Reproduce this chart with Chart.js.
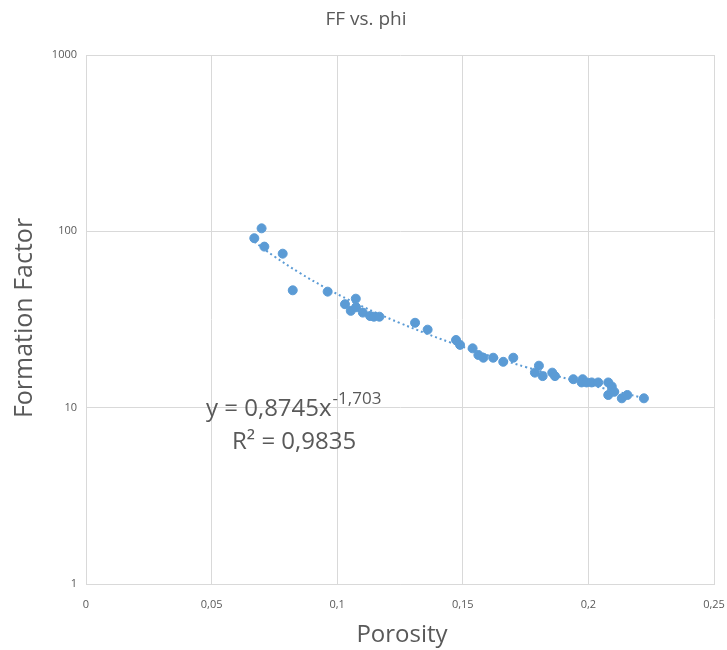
<!DOCTYPE html>
<html>
<head>
<meta charset="utf-8">
<script src="https://cdn.jsdelivr.net/npm/chart.js@4.4.1/dist/chart.umd.min.js"></script>
<style>
  html, body { margin: 0; padding: 0; background: #fff; }
  #wrap { width: 727px; height: 650px; }
</style>
</head>
<body>
<div id="wrap"><canvas id="grafico"></canvas></div>
<script>
// porosity (phi) and formation factor (FF)
var porosity = [
  0.0670, 0.0699, 0.0710, 0.0783, 0.0823, 0.0962, 0.1031, 0.1074, 0.1054, 0.1075,
  0.1102, 0.1131, 0.1146, 0.1168, 0.1310, 0.1360, 0.1473, 0.1489, 0.1539, 0.1562,
  0.1582, 0.1621, 0.1661, 0.1701, 0.1803, 0.1787, 0.1818, 0.1856, 0.1867, 0.1940,
  0.1977, 0.1973, 0.1993, 0.2013, 0.2039, 0.2079, 0.2093, 0.2079, 0.2103, 0.2133,
  0.2155, 0.2221
];
var formationFactor = [
  91.4, 104, 81.9, 74.7, 46.3, 45.5, 38.6, 41.5, 35.4, 37.1,
  34.6, 33.1, 32.8, 32.8, 30.3, 27.7, 24.2, 22.7, 21.7, 19.9,
  19.2, 19.2, 18.2, 19.2, 17.3, 15.8, 15.1, 15.8, 15.1, 14.5,
  14.5, 13.9, 13.9, 13.9, 13.9, 13.9, 13.2, 11.8, 12.3, 11.3,
  11.8, 11.3
];

// power trendline shown on the chart: y = 0,8745 x^-1,703
var trendCoef = 0.8745;
var trendExp = -1.703;
var trendX = [0.067, 0.075, 0.085, 0.095, 0.105, 0.115, 0.125, 0.135, 0.145, 0.155,
              0.165, 0.175, 0.185, 0.195, 0.205, 0.215, 0.2221];

var xTicks = [0, 0.05, 0.1, 0.15, 0.2, 0.25];
var yTicks = [1, 10, 100, 1000];

var titulo = 'FF vs. phi';
var tituloX = 'Porosity';
var tituloY = 'Formation Factor';
var equacao = 'y = 0,8745x';
var expoente = '-1,703';
var r2Texto = 'R\u00b2 = 0,9835';

var cinza = '#595959';
var azul = '#5b9bd5';
var fonte = '"Open Sans", sans-serif';

function fmtDecimal(v) {
    return String(Math.round(v * 100) / 100).replace('.', ',');
}

var pontos = porosity.map(function (p, i) { return { x: p, y: formationFactor[i] }; });
var tendencia = trendX.map(function (x) { return { x: x, y: trendCoef * Math.pow(x, trendExp) }; });

var textosPlugin = {
    id: 'textos',
    afterDraw: function (chart) {
        var ctx = chart.ctx;
        var area = chart.chartArea;
        ctx.save();
        ctx.fillStyle = cinza;
        ctx.textBaseline = 'middle';
        ctx.textAlign = 'center';

        ctx.font = '19px ' + fonte;
        ctx.fillText(titulo, 366, 20);

        ctx.font = '24px ' + fonte;
        ctx.fillText(tituloX, 402, 635);

        ctx.save();
        ctx.translate(25, 318);
        ctx.rotate(-Math.PI / 2);
        ctx.font = '25px ' + fonte;
        ctx.fillText(tituloY, 0, 0);
        ctx.restore();

        // equation and R2
        ctx.textAlign = 'left';
        ctx.textBaseline = 'alphabetic';
        ctx.font = '24px ' + fonte;
        var x0 = 206;
        ctx.fillText(equacao, x0, 416);
        var w = ctx.measureText(equacao).width;
        ctx.font = '17px ' + fonte;
        ctx.fillText(expoente, x0 + w + 1, 404);
        ctx.font = '24px ' + fonte;
        ctx.fillText(r2Texto, 232, 449);
        ctx.restore();
    }
};

new Chart(document.getElementById('grafico'), {
    type: 'scatter',
    data: {
        datasets: [
            {
                label: 'FF',
                data: pontos,
                backgroundColor: azul,
                borderColor: azul,
                pointRadius: 4.5,
                pointHoverRadius: 4.5,
                order: 1
            },
            {
                label: 'Trend',
                type: 'line',
                data: tendencia,
                borderColor: azul,
                borderWidth: 2,
                borderDash: [2, 3],
                pointRadius: 0,
                tension: 0.4,
                fill: false,
                order: 2
            }
        ]
    },
    options: {
        responsive: true,
        maintainAspectRatio: false,
        animation: false,
        layout: { padding: { top: 55, right: 13, left: 0, bottom: 0 } },
        plugins: {
            legend: { display: false },
            tooltip: { enabled: false },
            title: { display: false }
        },
        scales: {
            x: {
                type: 'linear',
                min: 0,
                max: 0.25,
                afterBuildTicks: function (scale) {
                    scale.ticks = xTicks.map(function (v) { return { value: v }; });
                },
                afterFit: function (scale) {
                    scale.height = 66;
                    scale.paddingLeft = 0;
                    scale.paddingRight = 0;
                },
                grid: { color: '#d9d9d9', drawTicks: false },
                border: { color: '#d9d9d9' },
                ticks: {
                    color: cinza,
                    padding: 14,
                    font: { family: fonte, size: 11 },
                    callback: function (v) { return fmtDecimal(v); }
                }
            },
            y: {
                type: 'logarithmic',
                min: 1,
                max: 1000,
                afterBuildTicks: function (scale) {
                    scale.ticks = yTicks.map(function (v) { return { value: v }; });
                },
                afterFit: function (scale) { scale.width = 86; },
                grid: { color: '#d9d9d9', drawTicks: false },
                border: { color: '#d9d9d9' },
                ticks: {
                    color: cinza,
                    padding: 9,
                    font: { family: fonte, size: 11 },
                    callback: function (v) { return String(v); }
                }
            }
        }
    },
    plugins: [textosPlugin]
});
</script>
</body>
</html>
